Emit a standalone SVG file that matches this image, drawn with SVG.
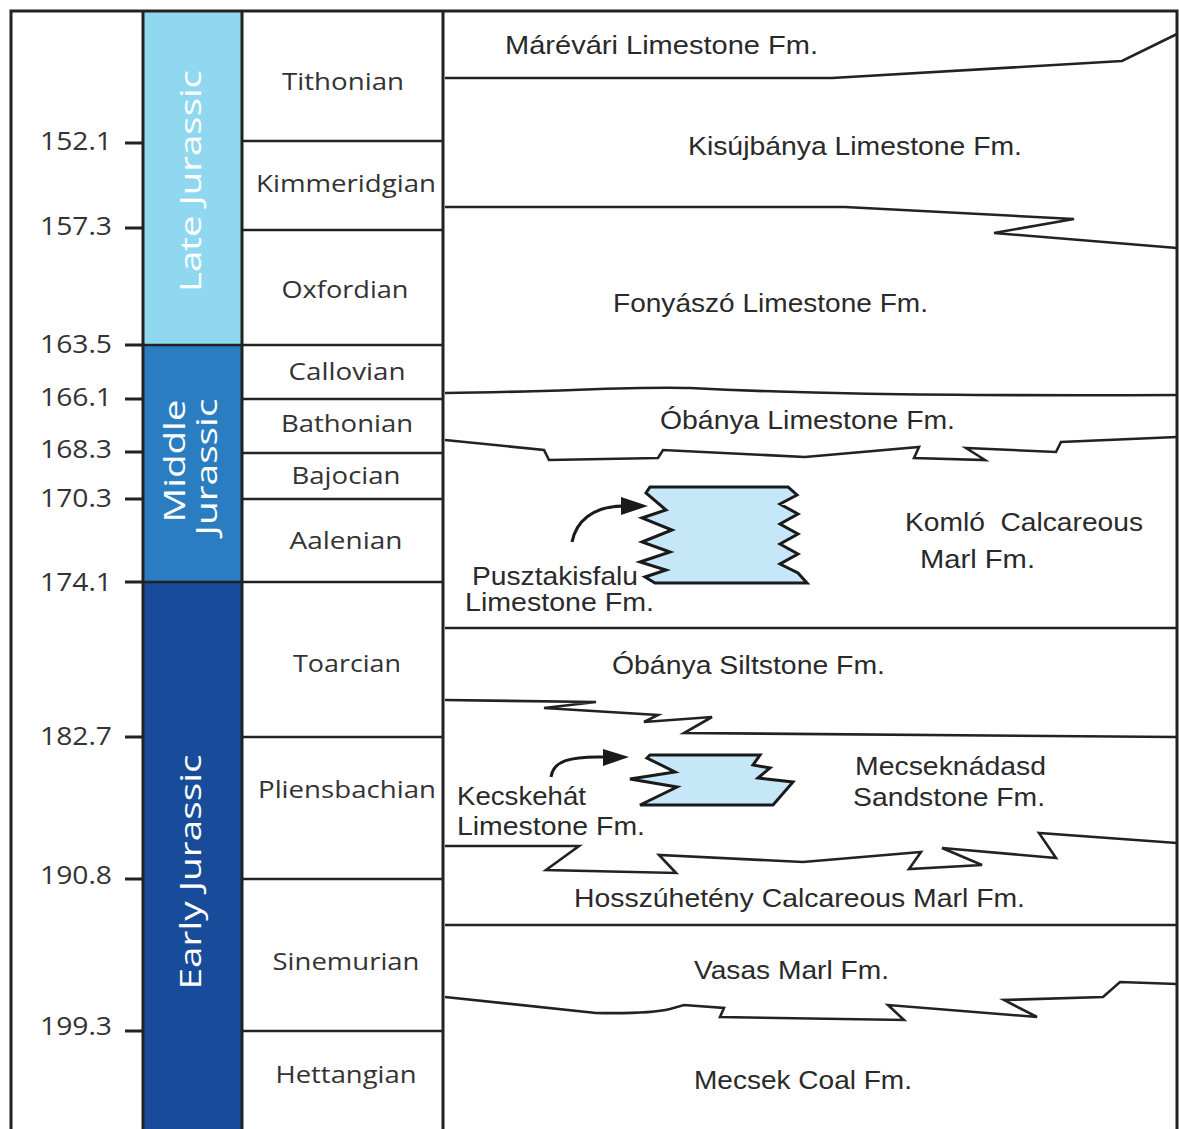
<svg xmlns="http://www.w3.org/2000/svg" width="1179" height="1129" viewBox="0 0 1179 1129">
<style>
.ln{stroke:#222;stroke-width:2.6;fill:none;stroke-linejoin:miter}
.tk{stroke:#222;stroke-width:3;fill:none}
.stage{font-family:"Open Sans","Liberation Sans",sans-serif;font-size:24px;fill:#333;text-anchor:middle}
.age{font-family:"Open Sans","Liberation Sans",sans-serif;font-size:25px;fill:#333}
.fm{font-family:"Liberation Sans Narrow","Liberation Sans",sans-serif;font-size:25px;fill:#2a2a2a}
.per{font-family:"Open Sans","Liberation Sans",sans-serif;font-size:30px;fill:#fff;text-anchor:middle}
.box{fill:#C5E7F7;stroke:#1a1a1a;stroke-width:3;stroke-linejoin:miter}
.arr{stroke:#1a1a1a;stroke-width:3;fill:none}
</style>
<rect width="1179" height="1129" fill="#fff"/>

<g id="periods">
  <g id="late-jurassic">
    <rect x="143" y="11" width="99" height="334" fill="#8FD8F0"/>
    <text class="per" transform="translate(201,181) rotate(-90)" textLength="222" lengthAdjust="spacingAndGlyphs">Late Jurassic</text>
  </g>
  <g id="middle-jurassic">
    <rect x="143" y="345" width="99" height="237" fill="#2A7DC1"/>
    <text class="per" transform="translate(185,461) rotate(-90)" textLength="123" lengthAdjust="spacingAndGlyphs">Middle</text>
    <text class="per" transform="translate(217,467) rotate(-90)" textLength="137" lengthAdjust="spacingAndGlyphs">Jurassic</text>
  </g>
  <g id="early-jurassic">
    <rect x="143" y="582" width="99" height="547" fill="#184B9A"/>
    <text class="per" transform="translate(201,872) rotate(-90)" textLength="235" lengthAdjust="spacingAndGlyphs">Early Jurassic</text>
  </g>
</g>

<g id="frame">
  <path class="tk" d="M11,1129 V11 H1177 V1129"/>
  <path class="tk" d="M143,11 V1129 M242,11 V1129 M443,11 V1129"/>
  <path class="ln" d="M242,141 H443 M242,230 H443 M143,345 H443 M242,399 H443 M242,453 H443 M242,499 H443 M143,582 H443 M242,737 H443 M242,879 H443 M242,1031 H443"/>
</g>

<g id="ages">
  <path class="tk" d="M125,143 H143 M125,228 H143 M125,345 H143 M125,399 H143 M125,452 H143 M125,499 H143 M125,582 H143 M125,737 H143 M125,879 H143 M125,1031 H143"/>
  <text class="age" x="40" y="150" textLength="72" lengthAdjust="spacingAndGlyphs">152.1</text>
  <text class="age" x="40" y="235" textLength="72" lengthAdjust="spacingAndGlyphs">157.3</text>
  <text class="age" x="40" y="353" textLength="72" lengthAdjust="spacingAndGlyphs">163.5</text>
  <text class="age" x="40" y="406" textLength="72" lengthAdjust="spacingAndGlyphs">166.1</text>
  <text class="age" x="40" y="458" textLength="72" lengthAdjust="spacingAndGlyphs">168.3</text>
  <text class="age" x="40" y="507" textLength="72" lengthAdjust="spacingAndGlyphs">170.3</text>
  <text class="age" x="40" y="591" textLength="72" lengthAdjust="spacingAndGlyphs">174.1</text>
  <text class="age" x="40" y="745" textLength="72" lengthAdjust="spacingAndGlyphs">182.7</text>
  <text class="age" x="40" y="884" textLength="72" lengthAdjust="spacingAndGlyphs">190.8</text>
  <text class="age" x="40" y="1035" textLength="72" lengthAdjust="spacingAndGlyphs">199.3</text>
</g>

<g id="stages">
  <g id="tithonian"><text class="stage" x="343" y="90" textLength="122" lengthAdjust="spacingAndGlyphs">Tithonian</text></g>
  <g id="kimmeridgian"><text class="stage" x="346" y="192" textLength="180" lengthAdjust="spacingAndGlyphs">Kimmeridgian</text></g>
  <g id="oxfordian"><text class="stage" x="345" y="298" textLength="127" lengthAdjust="spacingAndGlyphs">Oxfordian</text></g>
  <g id="callovian"><text class="stage" x="347" y="380" textLength="117" lengthAdjust="spacingAndGlyphs">Callovian</text></g>
  <g id="bathonian"><text class="stage" x="347" y="432" textLength="132" lengthAdjust="spacingAndGlyphs">Bathonian</text></g>
  <g id="bajocian"><text class="stage" x="346" y="484" textLength="109" lengthAdjust="spacingAndGlyphs">Bajocian</text></g>
  <g id="aalenian"><text class="stage" x="346" y="549" textLength="113" lengthAdjust="spacingAndGlyphs">Aalenian</text></g>
  <g id="toarcian"><text class="stage" x="347" y="672" textLength="108" lengthAdjust="spacingAndGlyphs">Toarcian</text></g>
  <g id="pliensbachian"><text class="stage" x="347" y="798" textLength="178" lengthAdjust="spacingAndGlyphs">Pliensbachian</text></g>
  <g id="sinemurian"><text class="stage" x="346" y="970" textLength="147" lengthAdjust="spacingAndGlyphs">Sinemurian</text></g>
  <g id="hettangian"><text class="stage" x="346" y="1083" textLength="141" lengthAdjust="spacingAndGlyphs">Hettangian</text></g>
</g>

<g id="connectors">
  <path class="ln" d="M445,78 L832,78 L1122,61 L1177,34"/>
  <path class="ln" d="M445,207 L845,207 L1074,219 L994,233 L1177,248"/>
  <path class="ln" d="M445,393 C560,392 630,386 690,388 C790,393 900,396 1177,395"/>
  <path class="ln" d="M445,440 L544,450 L549,460 L658,458 L663,450 L805,457 L919,447 L914,458 L985,460 L966,448 L1056,452 L1061,442 L1177,437"/>
  <path class="ln" d="M445,628 L1177,628"/>
  <path class="ln" d="M445,700 L596,702 L544,708 L658,715 L644,722 L712,717 L684,733 L1177,737"/>
  <path class="ln" d="M445,846 L579,846 L546,870 L676,873 L659,855 L803,862 L921,852 L909,869 L982,865 L942,848 L1056,858 L1039,833 L1177,843"/>
  <path class="ln" d="M445,925 L1177,925"/>
  <path class="ln" d="M445,997 L596,1013 Q650,1014 670,1009 L684,1005 L724,1008 L720,1017 L904,1020 L888,1005 L1037,1017 L1004,1000 L1103,997 L1120,982 L1177,984"/>
  <path class="arr" d="M572,542 C576,522 592,506 624,506"/>
  <polygon points="648,506 621,497 621,515" fill="#1a1a1a"/>
  <path class="arr" d="M551,777 C553,761 570,756 605,757"/>
  <polygon points="629,757 603,749 603,766" fill="#1a1a1a"/>
</g>

<g id="pusztakisfalu-box">
  <polygon class="box" points="650,487 788,487 797,495 780,504 798,514 780,524 798,534 780,544 798,554 780,564 798,573 807,583 655,583 645,577 666,570 640,562 670,552 642,542 672,530 642,518 666,510 646,493"/>
</g>
<g id="kecskehat-box">
  <polygon class="box" points="650,755 760,755 753,765 770,768 758,778 793,782 773,805 640,805 677,787 630,779 675,772 647,758"/>
</g>

<g id="formations">
  <g id="marevari"><text class="fm" x="505" y="54" textLength="313" lengthAdjust="spacingAndGlyphs">Márévári Limestone Fm.</text></g>
  <g id="kisujbanya"><text class="fm" x="688" y="155" textLength="334" lengthAdjust="spacingAndGlyphs">Kisújbánya Limestone Fm.</text></g>
  <g id="fonyaszo"><text class="fm" x="613" y="312" textLength="315" lengthAdjust="spacingAndGlyphs">Fonyászó Limestone Fm.</text></g>
  <g id="obanya-ls"><text class="fm" x="660" y="429" textLength="295" lengthAdjust="spacingAndGlyphs">Óbánya Limestone Fm.</text></g>
  <g id="komlo">
    <text class="fm" x="905" y="531" textLength="238" lengthAdjust="spacingAndGlyphs" style="white-space:pre">Komló  Calcareous</text>
    <text class="fm" x="920" y="568" textLength="115" lengthAdjust="spacingAndGlyphs">Marl Fm.</text>
  </g>
  <g id="pusztakisfalu">
    <text class="fm" x="472" y="585" textLength="166" lengthAdjust="spacingAndGlyphs">Pusztakisfalu</text>
    <text class="fm" x="465" y="611" textLength="189" lengthAdjust="spacingAndGlyphs">Limestone Fm.</text>
  </g>
  <g id="obanya-silt"><text class="fm" x="612" y="674" textLength="273" lengthAdjust="spacingAndGlyphs">Óbánya Siltstone Fm.</text></g>
  <g id="mecseknadasd">
    <text class="fm" x="855" y="775" textLength="191" lengthAdjust="spacingAndGlyphs">Mecseknádasd</text>
    <text class="fm" x="853" y="806" textLength="192" lengthAdjust="spacingAndGlyphs">Sandstone Fm.</text>
  </g>
  <g id="kecskehat">
    <text class="fm" x="457" y="805" textLength="129" lengthAdjust="spacingAndGlyphs">Kecskehát</text>
    <text class="fm" x="457" y="835" textLength="188" lengthAdjust="spacingAndGlyphs">Limestone Fm.</text>
  </g>
  <g id="hosszuheteny"><text class="fm" x="574" y="907" textLength="451" lengthAdjust="spacingAndGlyphs">Hosszúhetény Calcareous Marl Fm.</text></g>
  <g id="vasas"><text class="fm" x="694" y="979" textLength="195" lengthAdjust="spacingAndGlyphs">Vasas Marl Fm.</text></g>
  <g id="mecsek-coal"><text class="fm" x="694" y="1089" textLength="218" lengthAdjust="spacingAndGlyphs">Mecsek Coal Fm.</text></g>
</g>
</svg>
